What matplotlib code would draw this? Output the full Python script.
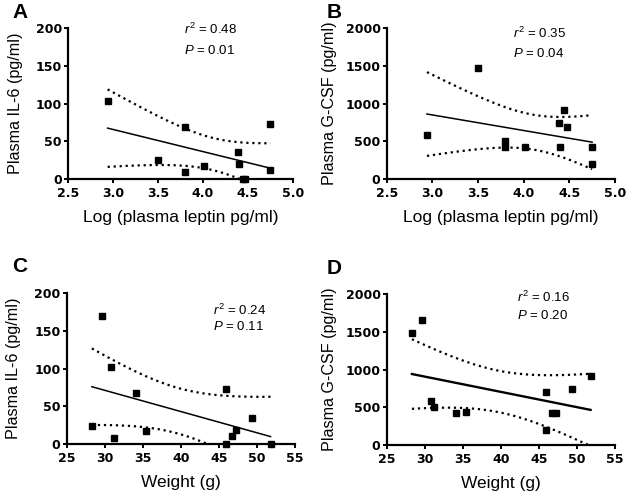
import numpy as np
import matplotlib
matplotlib.use("Agg")
import matplotlib.pyplot as plt

plt.rcParams['font.family'] = ['Liberation Sans', 'DejaVu Sans']
plt.rcParams['mathtext.fontset'] = 'custom'
plt.rcParams['mathtext.rm'] = 'Liberation Sans'
plt.rcParams['mathtext.it'] = 'Liberation Sans:italic'

# Panel A / B: log plasma leptin vs cytokine
leptin_log_a = [2.94, 3.50, 3.80, 3.80, 4.01, 4.39, 4.40, 4.44, 4.47, 4.75, 4.75]
il6_a = [103, 25, 69, 9, 17, 36, 20, 0, 0, 73, 12]
leptin_log_b = [2.94, 3.50, 3.80, 3.80, 4.01, 4.39, 4.40, 4.44, 4.47, 4.75, 4.75]
gcsf_b = [580, 1470, 510, 430, 430, 740, 430, 910, 690, 430, 200]

# Panel C / D: body weight vs cytokine
weight_c = [28.3, 29.6, 30.8, 31.2, 34.1, 35.4, 46.0, 46.0, 46.7, 47.3, 49.3, 51.8]
il6_c = [24, 170, 102, 8, 68, 17, 73, 0, 11, 19, 35, 0]
weight_d = [28.3, 29.6, 30.8, 31.2, 34.1, 35.4, 46.0, 46.0, 46.7, 47.3, 49.3, 51.8]
gcsf_d = [1480, 1660, 580, 510, 430, 440, 700, 200, 430, 430, 740, 920]

# axis ticks
leptin_ticks = [2.5, 3.0, 3.5, 4.0, 4.5, 5.0]
weight_ticks = [25, 30, 35, 40, 45, 50, 55]
il6_ticks = [0, 50, 100, 150, 200]
gcsf_ticks = [0, 500, 1000, 1500, 2000]

panel_letters = ['A', 'B', 'C', 'D']
stats_text = [('0.48', '0.01'), ('0.35', '0.04'), ('0.24', '0.11'), ('0.16', '0.20')]
ylabels = ['Plasma IL-6 (pg/ml)', 'Plasma G-CSF (pg/ml)',
           'Plasma IL-6 (pg/ml)', 'Plasma G-CSF (pg/ml)']
xlabels = ['Log (plasma leptin pg/ml)', 'Log (plasma leptin pg/ml)',
           'Weight (g)', 'Weight (g)']

# two-sided 95% t values for df = n - 2
T95 = {9: 2.262, 10: 2.228}


def fit_with_band(x, y):
    """Linear fit plus 95% confidence band of the line (Prism style)."""
    x = np.asarray(x, float)
    y = np.asarray(y, float)
    n = len(x)
    slope, intercept = np.polyfit(x, y, 1)
    resid = y - (slope * x + intercept)
    s = np.sqrt(np.sum(resid ** 2) / (n - 2))
    sxx = np.sum((x - x.mean()) ** 2)
    xs = np.linspace(x.min(), x.max(), 200)
    ys = slope * xs + intercept
    half = T95[n - 2] * s * np.sqrt(1.0 / n + (xs - x.mean()) ** 2 / sxx)
    return xs, ys, ys - half, ys + half


fig = plt.figure(figsize=(6.30, 4.99), dpi=100)

# axes rectangles in figure fractions
rects = [
    [0.108, 0.641, 0.357, 0.303],
    [0.614, 0.641, 0.362, 0.303],
    [0.106, 0.110, 0.362, 0.303],
    [0.614, 0.108, 0.362, 0.303],
]
datasets = [
    (leptin_log_a, il6_a),
    (leptin_log_b, gcsf_b),
    (weight_c, il6_c),
    (weight_d, gcsf_d),
]
# text anchor positions (axes fraction) for r2 / P lines
stat_pos = [(0.516, 0.993, 0.854), (0.553, 0.967, 0.834),
            (0.640, 0.885, 0.775), (0.569, 0.980, 0.855)]
letter_pos = [(12, 12), (327, 12), (12, 266), (327, 269)]
ylabel_x = [-0.235, -0.25, -0.232, -0.25]
fit_lw = [1.1, 1.1, 1.1, 1.7]

# bold, slightly wide font for the tick numbers
tick_font = dict(fontweight='bold', fontfamily='DejaVu Sans', fontsize=9)

for i, (x, y) in enumerate(datasets):
    ax = fig.add_axes(rects[i])
    xs, ys, lo, hi = fit_with_band(x, y)

    ax.plot(xs, ys, color='black', lw=fit_lw[i], zorder=2)
    for band in (lo, hi):
        ax.plot(xs, band, color='black', lw=1.6, linestyle=(0, (1, 1.7)),
                dash_capstyle='butt', zorder=2)
    ax.plot(x, y, 's', color='black', markersize=5, clip_on=False, zorder=5)

    if i < 2:
        xt = leptin_ticks
        ax.set_xlim(xt[0], xt[-1])
        ax.set_xticks(xt, labels=['%.1f' % t for t in xt], **tick_font)
    else:
        xt = weight_ticks
        ax.set_xlim(xt[0], xt[-1])
        ax.set_xticks(xt, labels=[str(t) for t in xt], **tick_font)
    yt = il6_ticks if i % 2 == 0 else gcsf_ticks
    ax.set_ylim(yt[0], yt[-1])
    ax.set_yticks(yt, labels=[str(t) for t in yt], **tick_font)

    for side in ('top', 'right'):
        ax.spines[side].set_visible(False)
    for side in ('left', 'bottom'):
        ax.spines[side].set_linewidth(1.6)
    ax.tick_params(axis='both', direction='out', length=3, width=1.4)
    ax.tick_params(axis='x', pad=2.5)
    ax.tick_params(axis='y', pad=1.5)

    ax.set_xlabel(xlabels[i], fontsize=12.5)
    ax.set_ylabel(ylabels[i], fontsize=11.6)
    ax.xaxis.set_label_coords(0.5, -0.252)
    ax.yaxis.set_label_coords(ylabel_x[i], 0.5)
    ax.xaxis.label.set_va('center')
    ax.yaxis.label.set_va('center')

    sx, ry, py = stat_pos[i]
    r2, p = stats_text[i]
    ax.text(sx, ry, r'$\mathit{r}^2$ = ' + r2, transform=ax.transAxes,
            fontsize=9.5, va='center', ha='left')
    ax.text(sx, py, r'$\mathit{P}$ = ' + p, transform=ax.transAxes,
            fontsize=9.5, va='center', ha='left')

    lx, ly = letter_pos[i]
    fig.text(lx / 630, 1 - ly / 499, panel_letters[i], fontsize=15,
             fontweight='bold', va='center', ha='left')

fig.savefig('out.png', dpi=100)
